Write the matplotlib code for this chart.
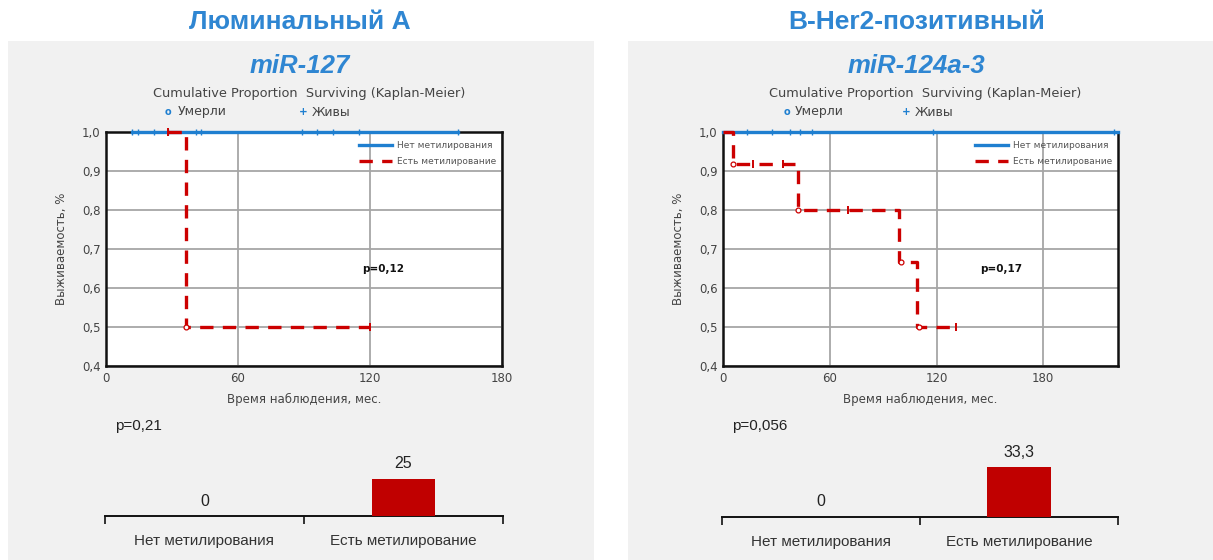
import matplotlib
matplotlib.use("Agg")
import matplotlib.pyplot as plt
from matplotlib.patches import Rectangle
from matplotlib.lines import Line2D

plt.rcParams['font.family'] = ['Liberation Sans', 'DejaVu Sans']

# ---------------- data ----------------
group_titles = ["Люминальный А", "В-Her2-позитивный"]
gene_titles = ["miR-127", "miR-124a-3"]
km_p = ["p=0,12", "p=0,17"]
bar_p = ["p=0,21", "p=0,056"]
categories = ["Нет метилирования", "Есть метилирование"]
bar_values = [[0, 25], [0, 33.3]]
bar_labels = [["0", "25"], ["0", "33,3"]]
x_ticks = [0, 60, 120, 180]
y_ticks = [0.4, 0.5, 0.6, 0.7, 0.8, 0.9, 1.0]
y_ticklabels = ["0,4", "0,5", "0,6", "0,7", "0,8", "0,9", "1,0"]
x_max = [180, 222]

# left panel KM
L_blue_t = [12, 160]
L_blue_s = [1.0, 1.0]
L_blue_cens = [12, 14.5, 22, 28, 41, 43, 89, 96, 103, 115, 160]
L_red_t = [28, 36.5, 120]
L_red_s = [1.0, 0.5, 0.5]
L_red_cens_t = [28, 120]
L_red_cens_s = [1.0, 0.5]
L_red_death_t = [36.5]
L_red_death_s = [0.5]

# right panel KM
R_blue_t = [0, 222]
R_blue_s = [1.0, 1.0]
R_blue_cens = [13.5, 27.5, 37.5, 43, 50, 118, 220]
R_red_t = [0, 5.6, 42, 99, 109, 131]
R_red_s = [1.0, 0.917, 0.8, 0.667, 0.5, 0.5]
R_red_cens_t = [17, 34, 70, 131]
R_red_cens_s = [0.917, 0.917, 0.8, 0.5]
R_red_death_t = [5.6, 42, 100, 110]
R_red_death_s = [0.917, 0.8, 0.667, 0.5]

km_data = [
    (L_blue_t, L_blue_s, L_blue_cens, L_red_t, L_red_s, L_red_cens_t, L_red_cens_s, L_red_death_t, L_red_death_s),
    (R_blue_t, R_blue_s, R_blue_cens, R_red_t, R_red_s, R_red_cens_t, R_red_cens_s, R_red_death_t, R_red_death_s),
]

# ---------------- layout ----------------
W, H = 1213, 560
fig = plt.figure(figsize=(W / 100, H / 100), dpi=100)
fig.patch.set_facecolor('white')

def rect(x0, y0, x1, y1):
    return [x0 / W, (H - y1) / H, (x1 - x0) / W, (y1 - y0) / H]

def fx(x):
    return x / W

def fy(y):
    return (H - y) / H

BLUE_T = '#2f86d2'
BLUE = '#1f7fd0'
RED = '#cc0000'
BAR_RED = '#c00000'
GRAY_BG = '#f1f1f1'
SMALL = ['DejaVu Sans']
DASH = (4.0, 2.8)

panels = [(8, 594), (628, 1213)]
km_boxes = [(106, 132, 502, 366), (723, 132, 1118, 366)]
bar_boxes = [(105, 420, 503, 516), (722, 421, 1118, 517)]
legend_row = [((168, 178), (303, 312)), ((787, 795), (906, 915))]
p_xfrac = [0.646, 0.65]

for i in range(2):
    px0, px1 = panels[i]
    fig.patches.append(Rectangle((fx(px0), 0), fx(px1) - fx(px0), fy(41), transform=fig.transFigure,
                                 facecolor=GRAY_BG, edgecolor='none', zorder=-5))
    kx0, ky0, kx1, ky1 = km_boxes[i]
    kcx = (kx0 + kx1) / 2
    fig.text(fx(kcx - 4), fy(22), group_titles[i], ha='center', va='center', fontsize=19,
             fontweight='bold', color=BLUE_T)
    fig.text(fx(kcx - 4), fy(66), gene_titles[i], ha='center', va='center', fontsize=18.5,
             fontweight='bold', fontstyle='italic', color=BLUE_T)
    fig.text(fx(kcx + 5), fy(93), "Cumulative Proportion  Surviving (Kaplan-Meier)", ha='center',
             va='center', fontsize=9.3, color='#444444', family=SMALL)
    (c_x, c_tx), (p_x, p_tx) = legend_row[i]
    fig.text(fx(c_x), fy(112), "o", ha='center', va='center', fontsize=7, color=BLUE,
             fontweight='bold', family=SMALL)
    fig.text(fx(c_tx), fy(112), "Умерли", ha='left', va='center', fontsize=9, color='#444444',
             family=SMALL)
    fig.text(fx(p_x), fy(112), "+", ha='center', va='center', fontsize=7.5, color=BLUE,
             fontweight='bold', family=SMALL)
    fig.text(fx(p_tx), fy(112), "Живы", ha='left', va='center', fontsize=9, color='#444444',
             family=SMALL)

    # ---- KM axes ----
    ax = fig.add_axes(rect(kx0, ky0, kx1, ky1))
    ax.set_facecolor('white')
    bt, bs, bc, rt, rs, rct, rcs, rdt, rds = km_data[i]
    ax.step(bt, bs, where='post', color=BLUE, lw=2.4, zorder=3, clip_on=False)
    ax.plot(bc, [1.0] * len(bc), linestyle='none', marker='|', ms=5, mew=1.0, color=BLUE, zorder=3.5,
            clip_on=False)
    ax.step(rt, rs, where='post', color=RED, lw=2.4, dashes=DASH, zorder=4, clip_on=False)
    ax.plot(rct, rcs, linestyle='none', marker='|', ms=6, mew=1.4, color=RED, zorder=5, clip_on=False)
    ax.plot(rdt, rds, linestyle='none', marker='o', ms=3.5, mew=0.9, mfc='white', mec=RED, zorder=5,
            clip_on=False)
    ax.set_xlim(0, x_max[i])
    ax.set_ylim(0.4, 1.0)
    ax.set_xticks(x_ticks)
    ax.set_yticks(y_ticks)
    ax.set_yticklabels(y_ticklabels)
    ax.tick_params(axis='both', length=0, labelsize=8.5, colors='#444444', pad=4)
    for lab in ax.get_xticklabels() + ax.get_yticklabels():
        lab.set_family(SMALL)
    ax.grid(True, color='#a6a6a6', lw=1.3)
    ax.set_axisbelow(True)
    for s in ax.spines.values():
        s.set_linewidth(1.8)
        s.set_color('#111111')
    ax.set_xlabel("Время наблюдения, мес.", fontsize=8.5, color='#444444', labelpad=6, family=SMALL)
    ax.set_ylabel("Выживаемость, %", fontsize=8.5, color='#444444', labelpad=10, family=SMALL)
    ax.text(p_xfrac[i], 0.415, km_p[i], transform=ax.transAxes, ha='left', va='center', fontsize=7.5,
            fontweight='bold', color='#111111', family=SMALL)
    handles = [Line2D([0], [0], color=BLUE, lw=2.4),
               Line2D([0], [0], color=RED, lw=2.4, dashes=DASH)]
    leg = ax.legend(handles, ["Нет метилирования", "Есть метилирование"], loc='upper right',
                    bbox_to_anchor=(1.0, 0.985), frameon=False, fontsize=6.5, handlelength=3.7,
                    labelspacing=0.75, handletextpad=0.5, borderaxespad=0.25)
    for t in leg.get_texts():
        t.set_color('#555555')
        t.set_family(SMALL)

    # ---- bar axes ----
    bx0, by0, bx1, by1 = bar_boxes[i]
    bax = fig.add_axes(rect(bx0, by0, bx1, by1))
    bax.patch.set_alpha(0)
    pos = [0.5, 1.5]
    bax.bar(pos, bar_values[i], width=0.32, color=BAR_RED, zorder=3)
    for p, v, lab in zip(pos, bar_values[i], bar_labels[i]):
        bax.text(p, v + 5, lab, ha='center', va='bottom', fontsize=11.5, color='#222222')
    bax.set_xlim(0, 2)
    bax.set_ylim(0, 64)
    bax.set_xticks([0, 1, 2])
    bax.set_xticklabels([])
    bax.tick_params(axis='x', direction='out', length=6, width=1.2, color='#111111')
    bax.set_yticks([])
    for side in ['top', 'right', 'left']:
        bax.spines[side].set_visible(False)
    bax.spines['bottom'].set_linewidth(1.4)
    bax.spines['bottom'].set_color('#111111')
    for p, c in zip(pos, categories):
        bax.text(p, -12, c, ha='center', va='top', fontsize=11, color='#333333',
                 family=['Liberation Sans Narrow', 'Liberation Sans', 'DejaVu Sans'])
    fig.text(fx(bx0 + 10), fy(426), bar_p[i], ha='left', va='center', fontsize=11, color='#222222')

fig.savefig("out.png", dpi=100, facecolor='white')
